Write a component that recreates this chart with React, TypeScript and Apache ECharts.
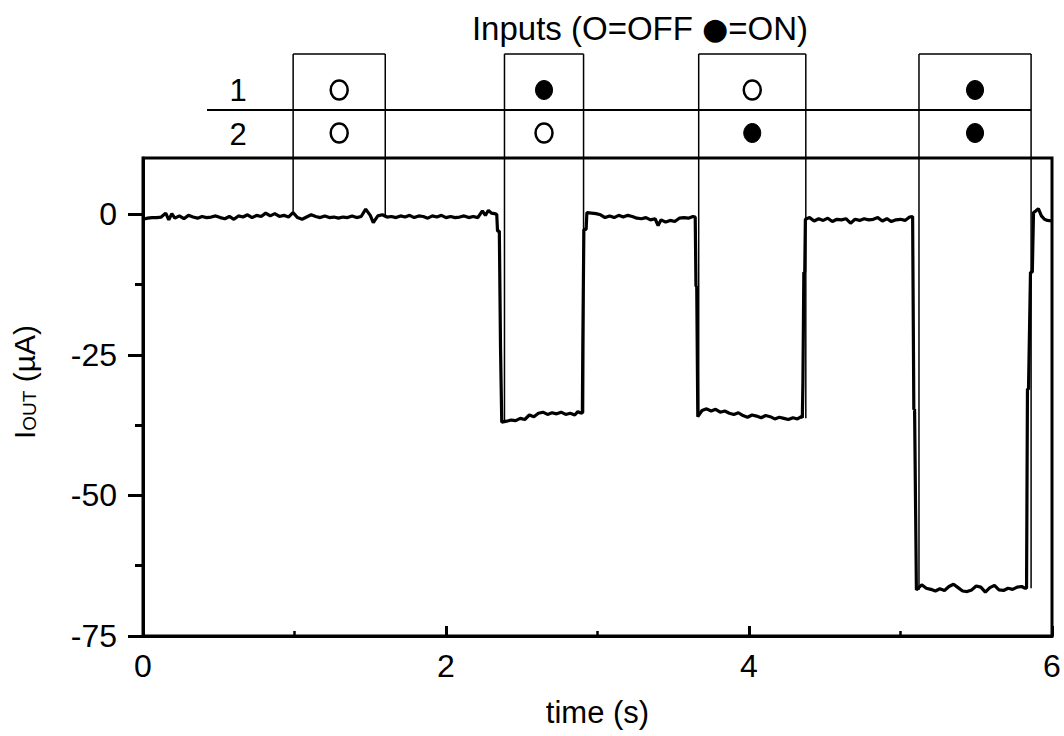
import React, { useEffect, useRef } from "react";
import * as echarts from "echarts";

const FONT = "Liberation Sans, Arial, Helvetica, sans-serif";

const xTicks = [0, 2, 4, 6];
const yTicks = [-75, -50, -25, 0];
const yMinorTicks = [-62.5, -37.5, -12.5];

// I_OUT trace (time s, current µA)
const baselineA: [number, number][] = [
  [0.0, -0.9], [0.03, -0.7], [0.06, -0.6], [0.09, -0.6], [0.12, -0.5], [0.15, 0.2], [0.17, -1.0],
  [0.19, 0.1], [0.21, -0.7], [0.24, -0.3], [0.27, -0.8], [0.3, -0.2], [0.33, -0.5], [0.36, -0.7],
  [0.39, -0.4], [0.42, -0.6], [0.45, -0.5], [0.48, -0.3], [0.51, -0.6], [0.54, -0.8], [0.57, -0.4],
  [0.6, -0.9], [0.63, -0.3], [0.66, -0.5], [0.69, -0.1], [0.72, -0.6], [0.75, -0.2], [0.78, -0.4],
  [0.81, 0.2], [0.84, -0.3], [0.87, 0.1], [0.9, -0.4], [0.93, -0.2], [0.96, -0.5], [0.99, 0.3],
  [1.02, -0.6], [1.05, -0.9], [1.08, -0.5], [1.11, -0.1], [1.14, -0.4], [1.17, -0.6], [1.2, -0.3],
  [1.23, -0.6], [1.26, -0.5], [1.29, -0.7], [1.32, -0.5], [1.35, -0.6], [1.38, -0.3], [1.41, -0.6],
  [1.44, -0.4], [1.47, 0.9], [1.5, -0.2], [1.52, -1.5], [1.55, -0.3], [1.58, -0.1], [1.61, -0.5],
  [1.64, -0.4], [1.67, -0.6], [1.7, -0.3], [1.73, -0.5], [1.76, -0.2], [1.79, -0.6], [1.82, -0.3],
  [1.85, -0.4], [1.88, -0.7], [1.91, -0.3], [1.94, -0.5], [1.97, -0.2], [2.0, -0.6], [2.03, -0.4],
  [2.06, -0.6], [2.09, -0.5], [2.12, -0.3], [2.15, -0.6], [2.18, -0.4], [2.21, -0.6], [2.24, 0.6],
  [2.26, -0.2], [2.28, 0.7], [2.3, 0.2], [2.32, 0.1], [2.335, 0.0],
];
const pulseA: [number, number][] = [
  [2.34, -3.0], [2.352, -3.0], [2.36, -24.0], [2.368, -37.0], [2.4, -36.8], [2.43, -36.6],
  [2.46, -36.7], [2.49, -36.3], [2.52, -36.5], [2.55, -35.7], [2.58, -36.0], [2.61, -35.4],
  [2.64, -35.2], [2.67, -35.6], [2.7, -35.3], [2.73, -35.5], [2.76, -35.2], [2.79, -35.6],
  [2.82, -35.4], [2.85, -35.7], [2.87, -35.1], [2.885, -35.3], [2.9, -35.4], [2.903, -23.5],
  [2.91, -2.7], [2.925, -2.7], [2.93, 0.3],
];
const baselineB: [number, number][] = [
  [2.96, 0.2], [2.99, 0.1], [3.02, -0.1], [3.05, -0.6], [3.08, -0.3], [3.11, -0.6], [3.14, -0.2],
  [3.17, -0.5], [3.2, -0.2], [3.23, -0.4], [3.26, -0.7], [3.29, -0.8], [3.32, -0.6], [3.35, -1.0],
  [3.38, -0.8], [3.4, -2.0], [3.42, -1.0], [3.45, -1.4], [3.48, -1.1], [3.51, -1.3], [3.54, -0.7],
  [3.57, -0.6], [3.6, -0.7], [3.63, -0.4], [3.645, -0.5],
];
const pulseB: [number, number][] = [
  [3.65, -12.8], [3.655, -12.8], [3.662, -36.0], [3.69, -34.9], [3.72, -34.6], [3.75, -35.0],
  [3.78, -34.7], [3.81, -35.2], [3.84, -35.0], [3.87, -35.4], [3.9, -35.6], [3.93, -35.3],
  [3.96, -35.8], [3.99, -36.1], [4.02, -35.7], [4.05, -35.9], [4.08, -36.2], [4.11, -35.8],
  [4.14, -36.0], [4.17, -36.4], [4.2, -36.1], [4.23, -36.3], [4.26, -36.5], [4.29, -36.2],
  [4.32, -36.4], [4.345, -36.0], [4.352, -36.2], [4.356, -29.7], [4.362, -10.3], [4.368, -10.3],
  [4.372, -0.9],
];
const baselineC: [number, number][] = [
  [4.4, -0.6], [4.43, -1.2], [4.46, -0.8], [4.49, -1.1], [4.52, -0.7], [4.55, -1.3], [4.58, -0.9],
  [4.61, -1.0], [4.64, -0.8], [4.67, -1.6], [4.7, -0.9], [4.73, -1.1], [4.76, -0.8], [4.79, -1.0],
  [4.82, -0.9], [4.85, -0.6], [4.88, -1.2], [4.91, -0.8], [4.94, -1.3], [4.97, -1.0], [5.0, -0.9],
  [5.03, -1.1], [5.06, -0.5], [5.08, -0.4],
];
const pulseC: [number, number][] = [
  [5.088, -34.7], [5.093, -34.7], [5.105, -66.8], [5.14, -65.9], [5.17, -66.5], [5.2, -66.7],
  [5.23, -67.0], [5.26, -66.6], [5.29, -66.9], [5.32, -66.2], [5.35, -65.8], [5.38, -66.4],
  [5.41, -67.0], [5.44, -67.1], [5.47, -66.8], [5.5, -66.1], [5.53, -66.3], [5.56, -67.2],
  [5.59, -66.4], [5.62, -66.0], [5.65, -66.8], [5.68, -66.9], [5.71, -66.5], [5.74, -66.7],
  [5.77, -66.3], [5.8, -66.2], [5.82, -66.5], [5.832, -66.5], [5.838, -31.1], [5.845, -31.1],
  [5.858, -10.3], [5.87, -10.3], [5.878, 0.3],
];
const baselineD: [number, number][] = [
  [5.89, 0.5], [5.91, 1.0], [5.93, -0.3], [5.95, -0.9], [5.97, -1.1], [6.0, -1.2],
];

// Input-state boxes: [start s, end s], the trace values where their edges end, and the states
const boxEdges: [number, number][] = [[0.991, 1.599], [2.386, 2.908], [3.668, 4.375], [5.122, 5.862]];
const boxBottoms: [number, number][] = [[0, -0.2], [-36.9, -35.3], [-35.0, -36.3], [-66.8, -66.5]];
const input1 = [false, true, false, true];
const input2 = [false, false, true, true];
const rowLabels = ["1", "2"];
const titleParts = ["Inputs (O=OFF ", "●", "=ON)"];

export default function App() {
  const ref = useRef<HTMLDivElement>(null);
  useEffect(() => {
    document.body.style.margin = "0";
    const chart = echarts.init(ref.current!, null, { renderer: "svg" });
    const trace = [...baselineA, ...pulseA, ...baselineB, ...pulseB, ...baselineC, ...pulseC, ...baselineD];
    chart.setOption({
      animation: false,
      backgroundColor: "#fff",
      grid: {
        left: 143, right: 12, top: 158, bottom: 100,
        show: true, borderColor: "#000", borderWidth: 3, backgroundColor: "transparent",
      },
      xAxis: {
        type: "value", min: 0, max: 6, interval: 2,
        axisLine: { show: true, onZero: false, lineStyle: { color: "#000", width: 3 } },
        axisTick: { show: true, inside: true, length: 10, customValues: xTicks, lineStyle: { color: "#000", width: 3 } },
        minorTick: { show: true, splitNumber: 2, length: 5, lineStyle: { color: "#000", width: 2.5 } },
        axisLabel: { customValues: xTicks, color: "#000", fontSize: 32, fontFamily: FONT, margin: 14 },
        splitLine: { show: false },
        name: "time (s)", nameLocation: "middle", nameGap: 61,
        nameTextStyle: { color: "#000", fontSize: 31, fontFamily: FONT },
      },
      yAxis: [
        {
          type: "value", min: -75, max: 10, interval: 25, position: "left",
          axisLine: { show: true, onZero: false, lineStyle: { color: "#000", width: 3 } },
          axisTick: { show: true, length: 15, customValues: yTicks, lineStyle: { color: "#000", width: 3 } },
          axisLabel: { customValues: yTicks, color: "#000", fontSize: 32, fontFamily: FONT, margin: 26 },
          splitLine: { show: false },
        },
        {
          type: "value", min: -75, max: 10, interval: 25, position: "left", offset: 0,
          axisLine: { show: false, onZero: false },
          axisTick: { show: true, length: 8, customValues: yMinorTicks, lineStyle: { color: "#000", width: 3 } },
          axisLabel: { show: false },
          splitLine: { show: false },
        },
      ],
      series: [
        {
          type: "line", data: trace, showSymbol: false, symbol: "none",
          lineStyle: { color: "#000", width: 3.2 }, z: 5,
        },
      ],
    });

    const px = (t: number) => chart.convertToPixel({ xAxisIndex: 0 }, t) as number;
    const py = (v: number) => chart.convertToPixel({ yAxisIndex: 0 }, v) as number;
    const boxTop = 54;
    const row1Y = 90;
    const row2Y = 133;
    const sepY = 110;
    const els: any[] = [];
    const lineStyle = { stroke: "#000", lineWidth: 1.5 };
    boxEdges.forEach(([a, b], i) => {
      const x1 = px(a);
      const x2 = px(b);
      els.push({ type: "line", shape: { x1, y1: boxTop, x2: x1, y2: py(boxBottoms[i][0]) }, style: lineStyle, z: 3 });
      els.push({ type: "line", shape: { x1: x2, y1: boxTop, x2, y2: py(boxBottoms[i][1]) }, style: lineStyle, z: 3 });
      els.push({ type: "line", shape: { x1, y1: boxTop, x2, y2: boxTop }, style: lineStyle, z: 3 });
      const cx = (x1 + x2) / 2;
      [input1[i], input2[i]].forEach((on, r) => {
        els.push({
          type: "ellipse",
          shape: { cx, cy: r === 0 ? row1Y : row2Y, rx: 8.5, ry: 9.5 },
          style: on ? { fill: "#000", stroke: "#000", lineWidth: 1 } : { fill: "#fff", stroke: "#000", lineWidth: 2.5 },
          z: 4,
        });
      });
    });
    els.push({
      type: "line",
      shape: { x1: 207, y1: sepY, x2: px(boxEdges[3][1]), y2: sepY },
      style: { stroke: "#000", lineWidth: 2 },
      z: 3,
    });
    els.push({
      type: "text", x: 238, y: 90,
      style: { text: rowLabels[0], fontSize: 31, fontFamily: FONT, fill: "#000", align: "center", verticalAlign: "middle" },
    });
    els.push({
      type: "text", x: 238, y: 134,
      style: { text: rowLabels[1], fontSize: 31, fontFamily: FONT, fill: "#000", align: "center", verticalAlign: "middle" },
    });
    els.push({
      type: "text", x: 640, y: 28,
      style: {
        text: `{t|${titleParts[0]}}{d|${titleParts[1]}}{t|${titleParts[2]}}`,
        align: "center", verticalAlign: "middle", fill: "#000",
        rich: {
          t: { fontSize: 33, fontFamily: FONT, fill: "#000", lineHeight: 38 },
          d: { fontSize: 30, fontFamily: "DejaVu Sans", fill: "#000", lineHeight: 38 },
        },
      },
    });
    els.push({
      type: "text", x: 22, y: 382, rotation: Math.PI / 2,
      style: {
        text: "{a|I}{b|OUT}{a| (µA)}",
        align: "center", verticalAlign: "middle", fill: "#000",
        rich: {
          a: { fontSize: 30, fontFamily: FONT, fill: "#000", lineHeight: 34, verticalAlign: "bottom" },
          b: { fontSize: 19, fontFamily: FONT, fill: "#000", lineHeight: 34, verticalAlign: "bottom" },
        },
      },
    });
    chart.setOption({ graphic: els });
    return () => chart.dispose();
  }, []);
  return <div ref={ref} style={{ width: 1064, height: 736 }} />;
}
